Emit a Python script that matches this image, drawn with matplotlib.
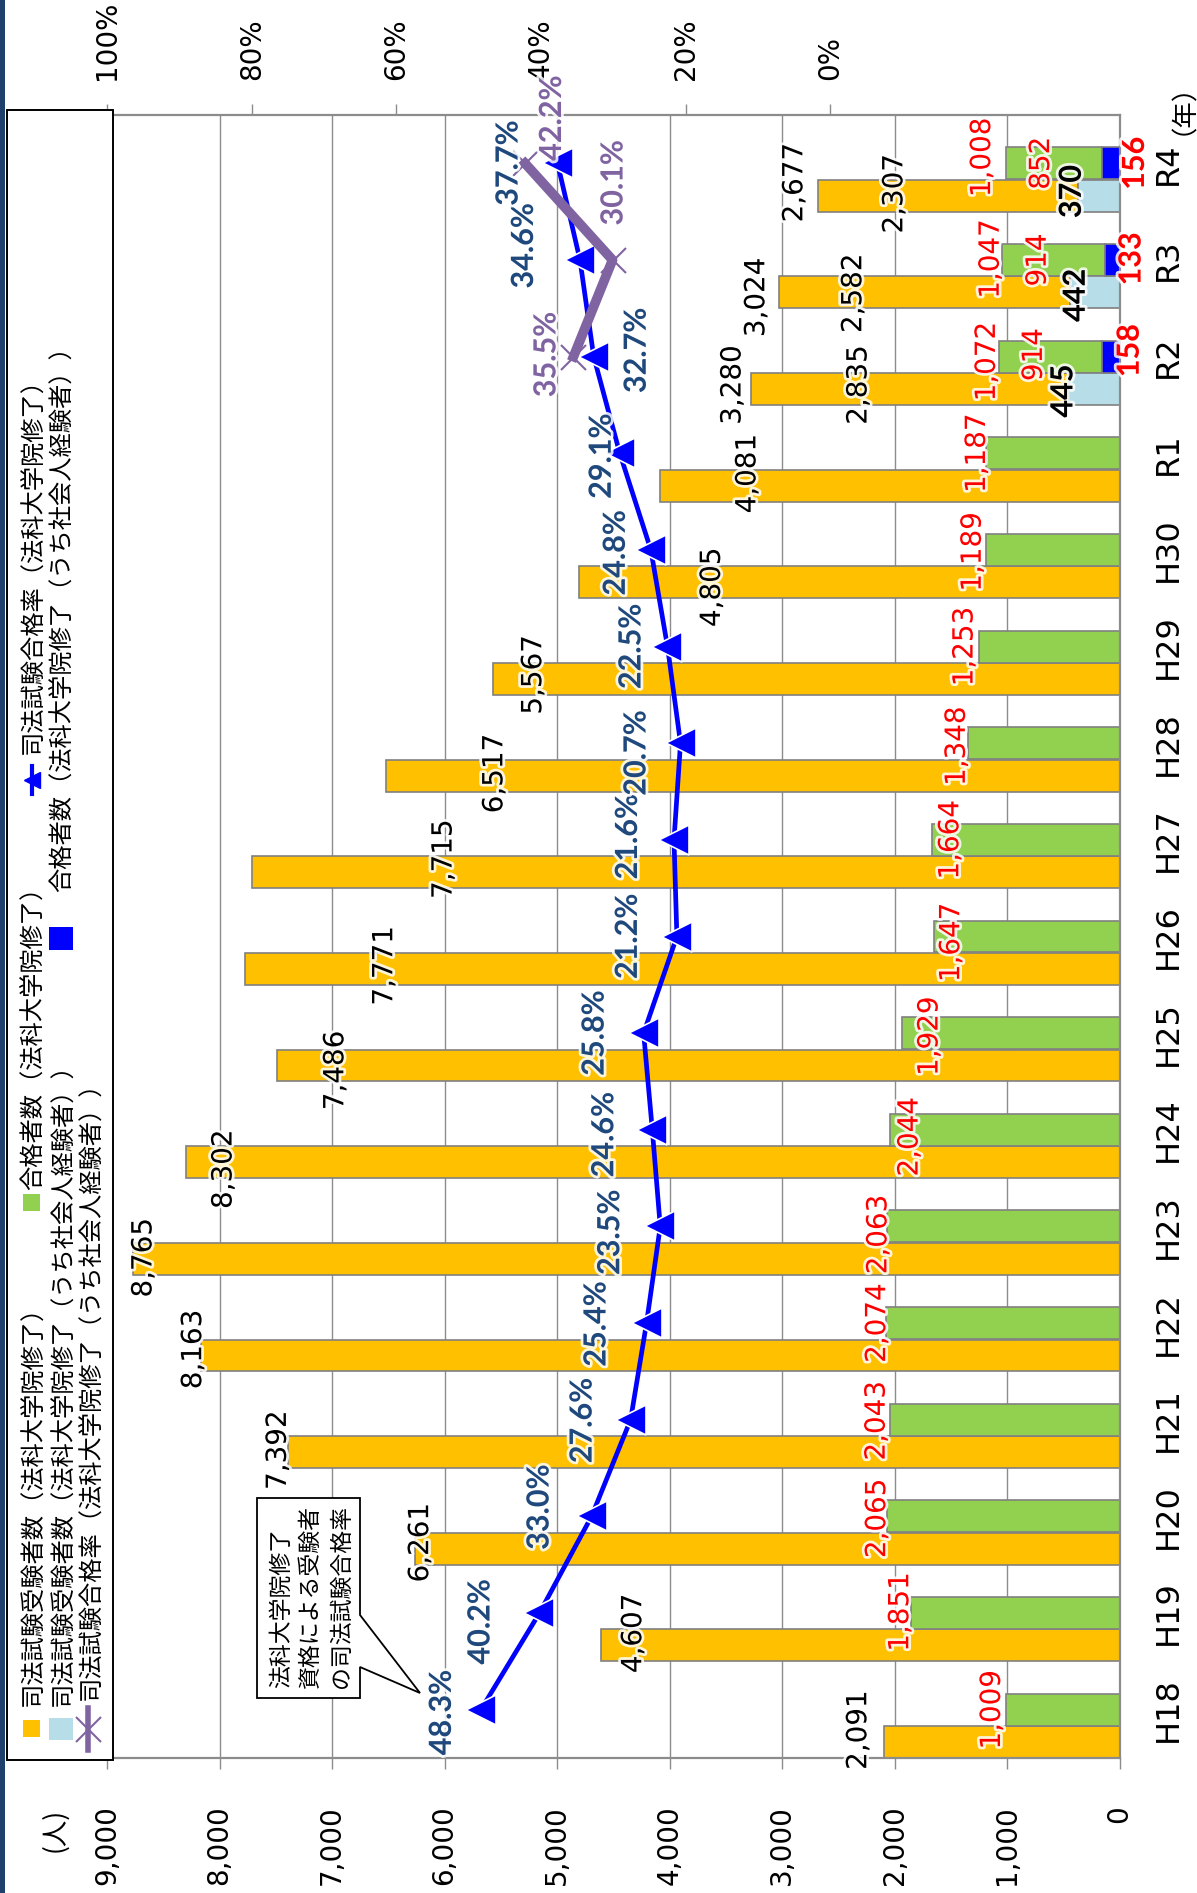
import matplotlib
matplotlib.use("Agg")
import numpy as np
import matplotlib.pyplot as plt
from matplotlib import patheffects as pe
from matplotlib.patches import Rectangle, Polygon
from matplotlib.lines import Line2D

plt.rcParams["font.family"] = ["DejaVu Sans", "Noto Sans CJK JP"]
JP = ["Noto Sans CJK JP", "DejaVu Sans"]
BOLD = ["Lato", "DejaVu Sans"]

# ---- data -------------------------------------------------------------
years = ["H18", "H19", "H20", "H21", "H22", "H23", "H24", "H25", "H26",
         "H27", "H28", "H29", "H30", "R1", "R2", "R3", "R4"]
examinees = [2091, 4607, 6261, 7392, 8163, 8765, 8302, 7486, 7771,
             7715, 6517, 5567, 4805, 4081, 3280, 3024, 2677]
passers = [1009, 1851, 2065, 2043, 2074, 2063, 2044, 1929, 1647,
           1664, 1348, 1253, 1189, 1187, 1072, 1047, 1008]
pass_rate = [48.3, 40.2, 33.0, 27.6, 25.4, 23.5, 24.6, 25.8, 21.2,
             21.6, 20.7, 22.5, 24.8, 29.1, 32.7, 34.6, 37.7]

career_years = ["R2", "R3", "R4"]
career_examinees = [445, 442, 370]
career_passers = [158, 133, 156]
career_rate = [35.5, 30.1, 42.2]

value_ticks = list(range(0, 9001, 1000))
rate_ticks = [0.0, 0.2, 0.4, 0.6, 0.8, 1.0]

# ---- label offsets in pixels (right, down) from each mark's end ----------
examinee_off = [(-26, -12), (32, -12), (5, -6), (-10, -2), (-8, -6), (10, -1),
                (38, 7), (58, 5), (139, -3), (192, -13), (108, -2), (40, -4),
                (133, 5), (87, -12), (-18, -4), (-23, 5), (-24, -13)]
passer_off = [(-14, 0), (-11, -1), (-10, 2), (-13, 1), (-9, 0), (-9, 8),
              (20, 7), (27, 3), (17, 6), (18, 0), (-11, 3), (-14, 0),
              (-13, 2), (-9, 0), (-12, 5), (-11, -1), (-24, -6)]
rate_off = [(-39, 3), (-59, 9), (-52, -9), (-48, 1), (-50, 1), (-50, 6),
            (-48, 5), (-49, 0), (-49, 0), (-46, -3), (-44, 10), (-36, 0),
            (-35, 3), (-18, 3), (43, -6), (-56, -14), (-49, 0)]
career_rate_off = [(-27, -2), (1, -77), (27, -45)]
other_examinee_off = [(108, -4), (74, 1), (76, -2)]
other_passer_off = [(35, -2), (36, 0), (35, 0)]
career_examinee_off = [(-6, 2), (6, 3), (-6, -4)]
career_passer_off = [(28, -6), (27, -1), (33, 0)]

# ---- colours --------------------------------------------------------------
C_EXAM = "#FFC000"
C_PASS = "#92D050"
C_CEXAM = "#B7DEE8"
C_CPASS = "#0000FF"
C_LINE = "#0000FF"
C_CLINE = "#8064A2"
C_RATE_TXT = "#1F497D"
C_GRID = "#8C8C8C"
C_EDGE = "#808080"

W, H = 1197, 1893
fig = plt.figure(figsize=(W / 100, H / 100), dpi=100)
fig.patch.set_facecolor("white")

L, R, T, B = 107, 1119.5, 115, 1758
ax = fig.add_axes([L / W, 1 - B / H, (R - L) / W, (B - T) / H])

idx = np.arange(len(years))
cidx = np.array([years.index(y) for y in career_years])
EXAM_SHIFT = 0.335
BAR_H = 0.33

ax.set_xlim(9000, 0)
ax.set_ylim(-0.5, len(years) - 0.5)

# stacked bars: career share at the base, remaining share on top of it
career_exam_full = np.zeros(len(years))
career_pass_full = np.zeros(len(years))
career_exam_full[cidx] = career_examinees
career_pass_full[cidx] = career_passers
exam_rest = np.array(examinees) - career_exam_full
pass_rest = np.array(passers) - career_pass_full

ax.barh(idx - EXAM_SHIFT, exam_rest, left=career_exam_full, height=BAR_H,
        color=C_EXAM, edgecolor=C_EDGE, linewidth=1.2, zorder=2)
ax.barh(idx, pass_rest, left=career_pass_full, height=BAR_H,
        color=C_PASS, edgecolor=C_EDGE, linewidth=1.2, zorder=2)
ax.barh(cidx - EXAM_SHIFT, career_examinees, height=BAR_H,
        color=C_CEXAM, edgecolor=C_EDGE, linewidth=1.2, zorder=2)
ax.barh(cidx, career_passers, height=BAR_H,
        color=C_CPASS, edgecolor=C_EDGE, linewidth=1.2, zorder=2)

# grid, spines, ticks
ax.set_axisbelow(True)
ax.xaxis.grid(True, color=C_GRID, linewidth=1.0)
for s in ["top", "right", "bottom"]:
    ax.spines[s].set_color(C_GRID)
    ax.spines[s].set_linewidth(1.6)
ax.spines["left"].set_visible(False)

ax.set_xticks(value_ticks)
ax.set_xticklabels([f"{v:,}" for v in value_ticks], rotation=90, fontsize=20)
ax.tick_params(axis="x", direction="out", length=8, width=1, color=C_GRID,
               pad=26)
ax.yaxis.tick_right()
ax.set_yticks(idx)
ax.set_yticklabels(years, rotation=90, va="center", fontsize=23)
ax.tick_params(axis="y", length=0, pad=24)

glow = [pe.withStroke(linewidth=4, foreground="white", alpha=0.85)]


def put(axis, x, y, s, off, **kw):
    axis.annotate(s, (x, y), xytext=(off[0], -off[1]),
                  textcoords="offset pixels", ha="center", va="center",
                  rotation=90, annotation_clip=False, path_effects=glow,
                  zorder=6, **kw)


for i, v in enumerate(examinees):
    put(ax, v, i - EXAM_SHIFT, f"{v:,}", examinee_off[i], fontsize=20,
        color="black")
for i, v in enumerate(passers):
    put(ax, v, i, f"{v:,}", passer_off[i], fontsize=20, color="red")
for k, i in enumerate(cidx):
    put(ax, examinees[i], i - EXAM_SHIFT, f"{int(exam_rest[i]):,}",
        other_examinee_off[k], fontsize=20, color="black")
    put(ax, passers[i], i, f"{int(pass_rest[i]):,}", other_passer_off[k],
        fontsize=20, color="red")
    put(ax, career_examinees[k], i - EXAM_SHIFT, f"{career_examinees[k]:,}",
        career_examinee_off[k], fontsize=22, color="black",
        family=BOLD, weight="bold")
    put(ax, career_passers[k], i, f"{career_passers[k]:,}",
        career_passer_off[k], fontsize=22, color="red",
        family=BOLD, weight="bold")

# pass-rate lines on the secondary (percent) scale
ax2 = ax.twiny()
ax2.set_xlim(1.0, -0.4)
for s in ax2.spines.values():
    s.set_visible(False)
ax2.set_xticks(rate_ticks)
ax2.set_xticklabels([f"{int(round(t * 100))}%" for t in rate_ticks],
                    rotation=90, fontsize=20)
ax2.tick_params(axis="x", direction="out", length=8, width=1, color=C_GRID,
                pad=17)

ax2.plot(np.array(pass_rate) / 100, idx, color=C_LINE, linewidth=3.4,
         marker="<", markersize=21, markerfacecolor=C_LINE,
         markeredgecolor="white", markeredgewidth=1.2, zorder=3,
         clip_on=False)
ax2.plot(np.array(career_rate) / 100, cidx, color=C_CLINE, linewidth=7,
         marker="x", markersize=18, markeredgecolor=C_CLINE,
         markeredgewidth=1.5, zorder=4, clip_on=False)

for i, r in enumerate(pass_rate):
    put(ax2, r / 100, i, f"{r:.1f}%", rate_off[i], fontsize=22,
        color=C_RATE_TXT, family=BOLD, weight="bold")
for k, i in enumerate(cidx):
    put(ax2, career_rate[k] / 100, i, f"{career_rate[k]:.1f}%",
        career_rate_off[k], fontsize=22, color=C_CLINE, family=BOLD,
        weight="bold")


# ---- figure-level decorations (pixel positions measured from the top) ----
def fx(x):
    return x / W


def fy(y):
    return 1 - y / H


fig.add_artist(Rectangle((0, 0), fx(5), 1, transform=fig.transFigure,
                         facecolor="#1F3F6F", edgecolor="none", zorder=1))

fig.text(fx(55), fy(1830), "(人)", rotation=90, ha="center", va="center",
         fontsize=19, family=JP)
fig.text(fx(1170), fy(95), "（年）", rotation=90, ha="center", va="center",
         fontsize=19, family=JP)

# legend box
fig.add_artist(Rectangle((fx(7), fy(1760)), fx(113) - fx(7), fy(110) - fy(1760),
                         transform=fig.transFigure, facecolor="white",
                         edgecolor="black", linewidth=1.4, zorder=2))


def legend_text(x, y, s):
    fig.text(fx(x), fy(y), s, rotation=90, rotation_mode="anchor",
             ha="left", va="center", fontsize=17.5, family=JP, zorder=3)


def legend_box(x0, x1, y0, y1, color):
    fig.add_artist(Rectangle((fx(x0), fy(y1)), fx(x1) - fx(x0), fy(y0) - fy(y1),
                             transform=fig.transFigure, facecolor=color,
                             edgecolor="none", zorder=3))


legend_box(23, 40, 1720, 1737, C_EXAM)
legend_text(33, 1706, "司法試験受験者数（法科大学院修了）")
legend_box(23, 40, 1194, 1211, C_PASS)
legend_text(33, 1190, "合格者数（法科大学院修了）")
fig.add_artist(Line2D([fx(32), fx(32)], [fy(766), fy(794)],
                      transform=fig.transFigure, color=C_LINE, linewidth=3,
                      zorder=3))
fig.add_artist(Line2D([fx(32)], [fy(780)], transform=fig.transFigure,
                      marker="<", markersize=12, color=C_LINE, zorder=3))
legend_text(33, 754, "司法試験合格率（法科大学院修了）")

legend_box(49, 73, 1718, 1740, C_CEXAM)
legend_text(62, 1706, "司法試験受験者数（法科大学院修了（うち社会人経験者））")
legend_box(49, 73, 927, 950, C_CPASS)
legend_text(62, 892, "合格者数（法科大学院修了（うち社会人経験者））")

fig.add_artist(Line2D([fx(88), fx(88)], [fy(1708), fy(1750)],
                      transform=fig.transFigure, color=C_CLINE, linewidth=4,
                      zorder=3))
fig.add_artist(Line2D([fx(88)], [fy(1729)], transform=fig.transFigure,
                      marker="x", markersize=18, markeredgewidth=1.5,
                      color=C_CLINE, zorder=3))
legend_text(90, 1700, "司法試験合格率（法科大学院修了（うち社会人経験者））")

# callout explaining the first rate point
callout = [(257, 1498), (360, 1498), (360, 1615), (420, 1693), (360, 1667),
           (360, 1698), (257, 1698)]
fig.add_artist(Polygon([(fx(x), fy(y)) for x, y in callout], closed=True,
                       transform=fig.transFigure, facecolor="white",
                       edgecolor="black", linewidth=1.3, zorder=2))
for x, s in [(282, "法科大学院修了"), (310, "資格による受験者"),
             (341, "の司法試験合格率")]:
    fig.text(fx(x), fy(1688), s, rotation=90, rotation_mode="anchor",
             ha="left", va="center", fontsize=16.5, family=JP, zorder=3)

fig.savefig("out.png", dpi=100, facecolor="white")
